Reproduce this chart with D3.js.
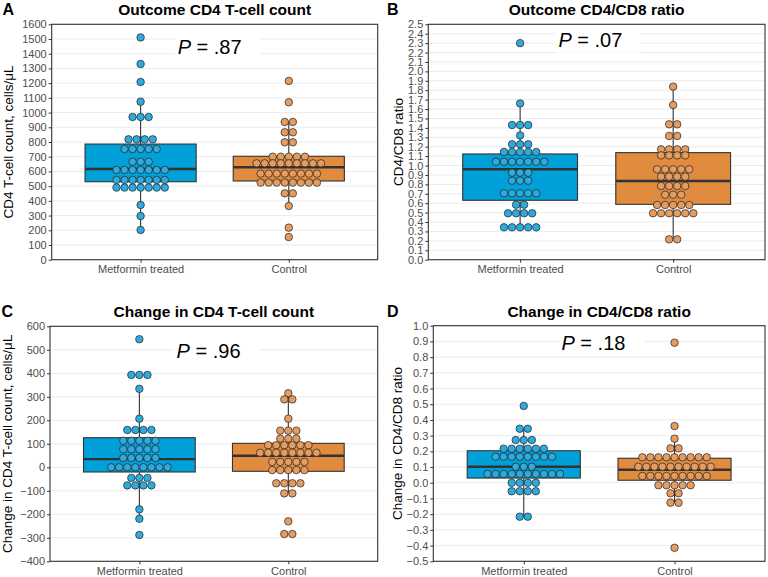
<!DOCTYPE html>
<html>
<head>
<meta charset="utf-8">
<script src="https://cdn.jsdelivr.net/npm/d3@7"></script>
<style>
  body { margin: 0; background: #fff; }
  svg { display: block; font-family: "Liberation Sans", Arial, sans-serif; }
  .tick text { fill: #4d4d4d; font-size: 11px; }
  .tick line { stroke: #333; }
</style>
</head>
<body>
<svg id="chart" width="768" height="577"></svg>
<script>
// ── Data (dot rows: [bin value, number of dots]) ─────────────────
const groups = ['Metformin treated', 'Control'];

const outcomeCd4Met = [[1511,1],[1330,1],[1208,1],[1074,1],[970,3],[818,4],[752,5],[666,3],[610,7],[542,7],[490,7],[372,1],[297,1],[202,1]];
const outcomeCd4Ctl = [[1215,1],[1070,1],[936,2],[866,2],[798,2],[700,5],[655,9],[585,8],[524,8],[451,2],[365,1],[218,1],[154,1]];

const outcomeRatioMet = [[2.30,1],[1.66,1],[1.43,3],[1.32,1],[1.225,3],[1.144,5],[1.04,7],[0.924,3],[0.839,3],[0.705,5],[0.584,2],[0.493,4],[0.344,5]];
const outcomeRatioCtl = [[1.838,1],[1.643,1],[1.438,2],[1.314,2],[1.172,4],[1.108,4],[0.96,5],[0.882,4],[0.783,4],[0.69,3],[0.581,5],[0.493,6],[0.216,2]];

const changeCd4Met = [[545,1],[393,3],[334,1],[207,1],[159,4],[113,5],[77,5],[40,5],[0,8],[-45,3],[-77,4],[-179,1],[-219,1],[-288,1]];
const changeCd4Ctl = [[315,1],[289,2],[207,1],[156,3],[122,3],[94,6],[62,8],[23,5],[-12,5],[-68,4],[-111,2],[-230,1],[-284,2]];

const changeRatioMet = [[0.489,1],[0.344,2],[0.272,3],[0.217,6],[0.166,8],[0.102,3],[0.056,10],[0.0,4],[-0.054,4],[-0.216,2]];
const changeRatioCtl = [[0.892,1],[0.361,1],[0.281,1],[0.219,2],[0.162,9],[0.102,10],[0.043,9],[-0.016,5],[-0.067,2],[-0.127,2],[-0.414,1]];

// box stats: [q1, median, q3, whisker low, whisker high]
const boxOutcomeCd4 = [[530, 616, 786, 202, 1074], [535, 628, 703, 365, 936]];
const boxOutcomeRatio = [[0.631, 0.960, 1.123, 0.344, 1.66], [0.588, 0.836, 1.137, 0.216, 1.838]];
const boxChangeCd4 = [[-20, 35, 126, -219, 334], [-17, 49, 102, -111, 315]];
const boxChangeRatio = [[0.030, 0.102, 0.204, -0.216, 0.344], [0.016, 0.083, 0.156, -0.127, 0.281]];

const pValues = ['.87', '.07', '.96', '.18'];

const BOX_FILL = ['#00a0d8', '#e08b3e'];
const DOT_FILL = ['#2eaadc', '#e69c5e'];

// ── Panels ───────────────────────────────────────────────────────
const panels = [
  { tag: 'A', title: 'Outcome CD4 T-cell count', yTitle: 'CD4 T-cell count, cells/μL',
    x0: 51.7, x1: 377.7, y0: 24.3, y1: 259.7, domain: [0, 1600], step: 100, fmt: d3.format('d'),
    rows: [outcomeCd4Met, outcomeCd4Ctl], box: boxOutcomeCd4, p: pValues[0],
    tagX: 2.5, titleY: 15, yTitleX: 12.5, pY: 54 },
  { tag: 'B', title: 'Outcome CD4/CD8 ratio', yTitle: 'CD4/CD8 ratio',
    x0: 428.3, x1: 765, y0: 24.3, y1: 259.7, domain: [0, 2.5], step: 0.1, fmt: d3.format('.1f'),
    rows: [outcomeRatioMet, outcomeRatioCtl], box: boxOutcomeRatio, p: pValues[1],
    tagX: 387, titleY: 15, yTitleX: 403, pY: 46.7 },
  { tag: 'C', title: 'Change in CD4 T-cell count', yTitle: 'Change in CD4 T-cell count, cells/μL',
    x0: 50, x1: 377.7, y0: 326.3, y1: 561.3, domain: [-400, 600], step: 100, fmt: d3.format('d'),
    rows: [changeCd4Met, changeCd4Ctl], box: boxChangeCd4, p: pValues[2],
    tagX: 1.5, titleY: 317, yTitleX: 11.5, pY: 358 },
  { tag: 'D', title: 'Change in CD4/CD8 ratio', yTitle: 'Change in CD4/CD8 ratio',
    x0: 433.3, x1: 765, y0: 325.7, y1: 561.3, domain: [-0.5, 1.0], step: 0.1, fmt: d3.format('.1f'),
    rows: [changeRatioMet, changeRatioCtl], box: boxChangeRatio, p: pValues[3],
    tagX: 387, titleY: 316.5, yTitleX: 401.5, pY: 349.7 },
];

const svg = d3.select('#chart');
const DOT_STEP = 8.05, DOT_R = 3.75;

panels.forEach(drawPanel);

function drawPanel(pn) {
  const g = svg.append('g');
  // discrete axis with ggplot's 0.6 expansion: 0.4 .. 2.6
  const xs = d3.scaleLinear().domain([0.4, 2.6]).range([pn.x0, pn.x1]);
  const xc = i => xs(i + 1);
  const y = d3.scaleLinear().domain(pn.domain).range([pn.y1, pn.y0]);
  const nTicks = Math.round((pn.domain[1] - pn.domain[0]) / pn.step);
  const ticks = d3.range(nTicks + 1).map(i => +(pn.domain[0] + i * pn.step).toFixed(3));

  // grid
  g.append('g').selectAll('line').data(ticks).join('line')
    .attr('x1', pn.x0).attr('x2', pn.x1)
    .attr('y1', d => y(d)).attr('y2', d => y(d))
    .attr('stroke', '#ebebeb').attr('stroke-width', 1);

  // boxes
  const bw = xs(1.375) - xs(1);
  pn.box.forEach((b, i) => {
    const [q1, med, q3, lo, hi] = b;
    g.append('line').attr('x1', xc(i)).attr('x2', xc(i))
      .attr('y1', y(lo)).attr('y2', y(hi))
      .attr('stroke', '#333').attr('stroke-width', 1.1);
    g.append('rect')
      .attr('x', xc(i) - bw).attr('width', bw * 2)
      .attr('y', y(q3)).attr('height', y(q1) - y(q3))
      .attr('fill', BOX_FILL[i]).attr('stroke', '#333').attr('stroke-width', 1.1);
    g.append('line').attr('x1', xc(i) - bw).attr('x2', xc(i) + bw)
      .attr('y1', y(med)).attr('y2', y(med))
      .attr('stroke', '#333').attr('stroke-width', 2.4);
  });

  // dots, stacked centre-wise per bin
  pn.rows.forEach((rows, i) => {
    const dots = rows.flatMap(([v, n]) => d3.range(n).map(k => ({ v, off: k - (n - 1) / 2 })));
    g.append('g').selectAll('circle').data(dots).join('circle')
      .attr('cx', d => xc(i) + d.off * DOT_STEP)
      .attr('cy', d => y(d.v))
      .attr('r', DOT_R)
      .attr('fill', DOT_FILL[i])
      .attr('stroke', '#222').attr('stroke-width', 0.7);
  });

  // P value label with white backing
  const lab = g.append('g');
  const txt = lab.append('text')
    .attr('x', xs(1.25)).attr('y', pn.pY)
    .attr('font-size', 20).attr('fill', '#000');
  txt.append('tspan').attr('font-style', 'italic').text('P');
  txt.append('tspan').text(` = ${pn.p}`);
  const bb = txt.node().getBBox();
  lab.insert('rect', 'text')
    .attr('x', bb.x - 3).attr('y', bb.y - 1)
    .attr('width', bb.width + 22).attr('height', bb.height + 3)
    .attr('fill', '#fff');

  // border
  g.append('rect')
    .attr('x', pn.x0).attr('y', pn.y0)
    .attr('width', pn.x1 - pn.x0).attr('height', pn.y1 - pn.y0)
    .attr('fill', 'none').attr('stroke', '#333').attr('stroke-width', 1.1);

  // axes
  const ya = g.append('g').attr('transform', `translate(${pn.x0},0)`)
    .call(d3.axisLeft(y).tickValues(ticks).tickFormat(pn.fmt).tickSize(3).tickPadding(2));
  ya.select('.domain').remove();
  ya.selectAll('text').attr('font-family', null).attr('font-size', null);

  const xa = g.append('g').attr('transform', `translate(0,${pn.y1})`)
    .call(d3.axisBottom(xs).tickValues([1, 2]).tickFormat(d => groups[d - 1]).tickSize(3).tickPadding(3));
  xa.select('.domain').remove();
  xa.selectAll('text').attr('font-family', null).attr('font-size', null);

  // titles
  svg.append('text').attr('x', (pn.x0 + pn.x1) / 2).attr('y', pn.titleY)
    .attr('text-anchor', 'middle').attr('font-weight', 'bold').attr('font-size', 15.5)
    .text(pn.title);
  svg.append('text').attr('x', pn.tagX).attr('y', pn.titleY)
    .attr('font-weight', 'bold').attr('font-size', 16).text(pn.tag);
  svg.append('text')
    .attr('transform', `translate(${pn.yTitleX},${(pn.y0 + pn.y1) / 2}) rotate(-90)`)
    .attr('text-anchor', 'middle').attr('font-size', 13.5).text(pn.yTitle);
}
</script>
</body>
</html>
